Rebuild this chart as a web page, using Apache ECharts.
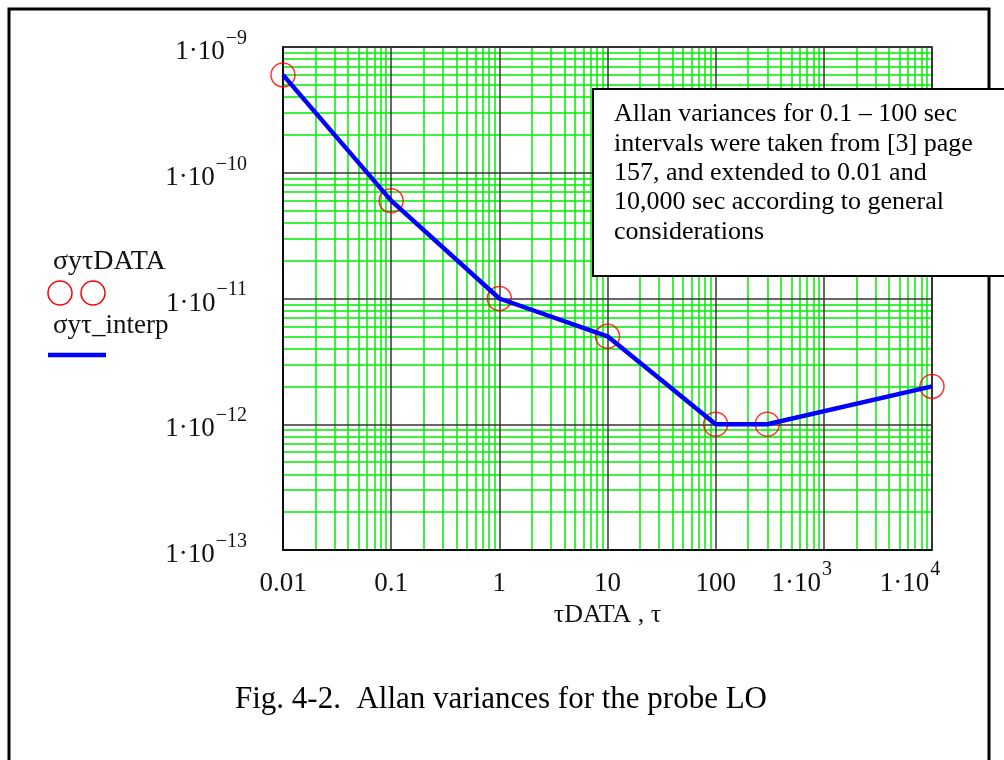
<!DOCTYPE html>
<html>
<head>
<meta charset="utf-8">
<title>Fig. 4-2. Allan variances for the probe LO</title>
<script src="https://cdn.jsdelivr.net/npm/echarts@6/dist/echarts.min.js"></script>
<style>
  html, body { margin: 0; padding: 0; background: #fff; }
  #chart { width: 1004px; height: 760px; }
</style>
</head>
<body>
<div id="chart"></div>
<script>
// Averaging time tau (s) and Allan deviation sigma_y(tau)
const tauData = [0.01, 0.1, 1, 10, 100, 300, 10000];
const sigmaData = [6e-10, 6e-11, 1e-11, 5e-12, 1e-12, 1e-12, 2e-12];

// Axis tick labels ("^" marks the exponent part)
const xTickLabels = ['0.01', '0.1', '1', '10', '100', '1·10^3', '1·10^4'];
const yTickLabels = ['1·10^−13', '1·10^−12', '1·10^−11', '1·10^−10', '1·10^−9'];

// Decade starts for the log grid and the in-decade minor factors
const xDecades = [0.01, 0.1, 1, 10, 100, 1000];
const yDecades = [1e-13, 1e-12, 1e-11, 1e-10];
const minorFactors = [2, 3, 4, 5, 6, 7, 8, 9];

const noteText = [
  'Allan variances for 0.1 – 100 sec',
  'intervals were taken from [3] page',
  '157, and extended to 0.01 and',
  '10,000 sec according to general',
  'considerations'
].join('\n');
const captionText = 'Fig. 4-2.  Allan variances for the probe LO';

const SERIF = '"Liberation Serif", "DejaVu Serif", serif';
const INK = '#111';

const minorLines = [];
xDecades.forEach(d => minorFactors.forEach(f => minorLines.push({ xAxis: d * f })));
yDecades.forEach(d => minorFactors.forEach(f => minorLines.push({ yAxis: d * f })));

function richLabel(str, padRight) {
  const parts = str.split('^');
  let s = '{m|' + parts[0] + '}';
  if (parts.length > 1) {
    s += '{e|' + parts[1] + '}';
    if (padRight) s += '{g| }';
  }
  return s;
}

const labelRich = {
  m: { fontFamily: SERIF, fontSize: 27, lineHeight: 27, padding: [10, 0, 0, 0], color: INK },
  e: { fontFamily: SERIF, fontSize: 20, lineHeight: 20, padding: [0, 0, 17, 1], color: INK },
  g: { fontFamily: SERIF, fontSize: 20, lineHeight: 20, width: 44 }
};

const chart = echarts.init(document.getElementById('chart'), null, { renderer: 'canvas' });

chart.setOption({
  animation: false,
  backgroundColor: '#fff',
  grid: {
    left: 283, top: 47, width: 649, height: 503,
    show: true, borderColor: '#000', borderWidth: 1.5, backgroundColor: '#fff'
  },
  xAxis: {
    type: 'log', logBase: 10, min: 0.01, max: 10000, interval: 1, z: 1,
    name: 'τDATA , τ', nameLocation: 'middle', nameGap: 50,
    nameTextStyle: { fontFamily: SERIF, fontSize: 26, color: INK },
    axisLine: { show: true, lineStyle: { color: '#000', width: 1.5 } },
    axisTick: { show: false },
    splitLine: { show: true, lineStyle: { color: '#333', width: 1.5 } },
    axisLabel: {
      margin: 15,
      showMinLabel: true, showMaxLabel: true, hideOverlap: false,
      formatter: v => {
        const i = Math.round(Math.log10(v)) + 2;
        return xTickLabels[i] !== undefined ? richLabel(xTickLabels[i], true) : '';
      },
      rich: labelRich
    }
  },
  yAxis: {
    type: 'log', logBase: 10, min: 1e-13, max: 1e-9, interval: 1, z: 1,
    axisLine: { show: true, lineStyle: { color: '#000', width: 1.5 } },
    axisTick: { show: false },
    splitLine: { show: true, lineStyle: { color: '#333', width: 1.5 } },
    axisLabel: {
      margin: 36,
      showMinLabel: true, showMaxLabel: true, hideOverlap: false,
      formatter: v => {
        const i = Math.round(Math.log10(v)) + 13;
        return yTickLabels[i] !== undefined ? richLabel(yTickLabels[i], false) : '';
      },
      rich: labelRich
    }
  },
  series: [
    {
      // minor (2..9) log grid lines
      name: 'grid', type: 'line', data: [], z: 0, silent: true,
      markLine: {
        z: 0.5, silent: true, animation: false,
        precision: 20,
        symbol: ['none', 'none'],
        label: { show: false },
        emphasis: { disabled: true },
        lineStyle: { color: '#00ee00', width: 1.5, type: 'solid' },
        data: minorLines
      }
    },
    {
      name: 'σyτDATA', type: 'scatter', z: 3, clip: true,
      data: tauData.map((t, i) => [t, sigmaData[i]]),
      symbol: 'circle', symbolSize: 24,
      itemStyle: { color: 'rgba(0,0,0,0)', borderColor: '#ff0000', borderWidth: 1.5 },
      emphasis: { disabled: true }
    },
    {
      name: 'σyτ_interp', type: 'line', z: 4, clip: true,
      data: tauData.map((t, i) => [t, sigmaData[i]]),
      showSymbol: false, symbol: 'none',
      lineStyle: { color: '#0000ff', width: 4.5 },
      emphasis: { disabled: true }
    }
  ],
  graphic: [
    // outer figure frame
    { type: 'rect', z: 50, silent: true,
      shape: { x: 9, y: 9, width: 980, height: 790 },
      style: { fill: 'none', stroke: '#000', lineWidth: 3 } },
    // legend
    { type: 'text', z: 60, x: 53, y: 262,
      style: { text: 'σyτDATA', font: '28px ' + SERIF, fill: INK, verticalAlign: 'middle' } },
    { type: 'circle', z: 60, shape: { cx: 60, cy: 293, r: 12 },
      style: { fill: 'none', stroke: '#ff0000', lineWidth: 1.5 } },
    { type: 'circle', z: 60, shape: { cx: 93, cy: 293, r: 12 },
      style: { fill: 'none', stroke: '#ff0000', lineWidth: 1.5 } },
    { type: 'text', z: 60, x: 53, y: 326,
      style: { text: 'σyτ_interp', font: '27px ' + SERIF, fill: INK, verticalAlign: 'middle' } },
    { type: 'line', z: 60, shape: { x1: 48, y1: 355, x2: 106, y2: 355 },
      style: { stroke: '#0000ff', lineWidth: 4.5 } },
    // note box
    { type: 'rect', z: 100, shape: { x: 593, y: 89, width: 430, height: 187 },
      style: { fill: '#fff', stroke: '#000', lineWidth: 2 } },
    { type: 'text', z: 101, x: 614, y: 100,
      style: { text: noteText, font: '26px ' + SERIF, fill: '#000', lineHeight: 29.3, verticalAlign: 'top' } },
    // caption
    { type: 'text', z: 60, x: 501, y: 700,
      style: { text: captionText, font: '31px ' + SERIF, fill: '#000', align: 'center', verticalAlign: 'middle' } }
  ]
});
</script>
</body>
</html>
